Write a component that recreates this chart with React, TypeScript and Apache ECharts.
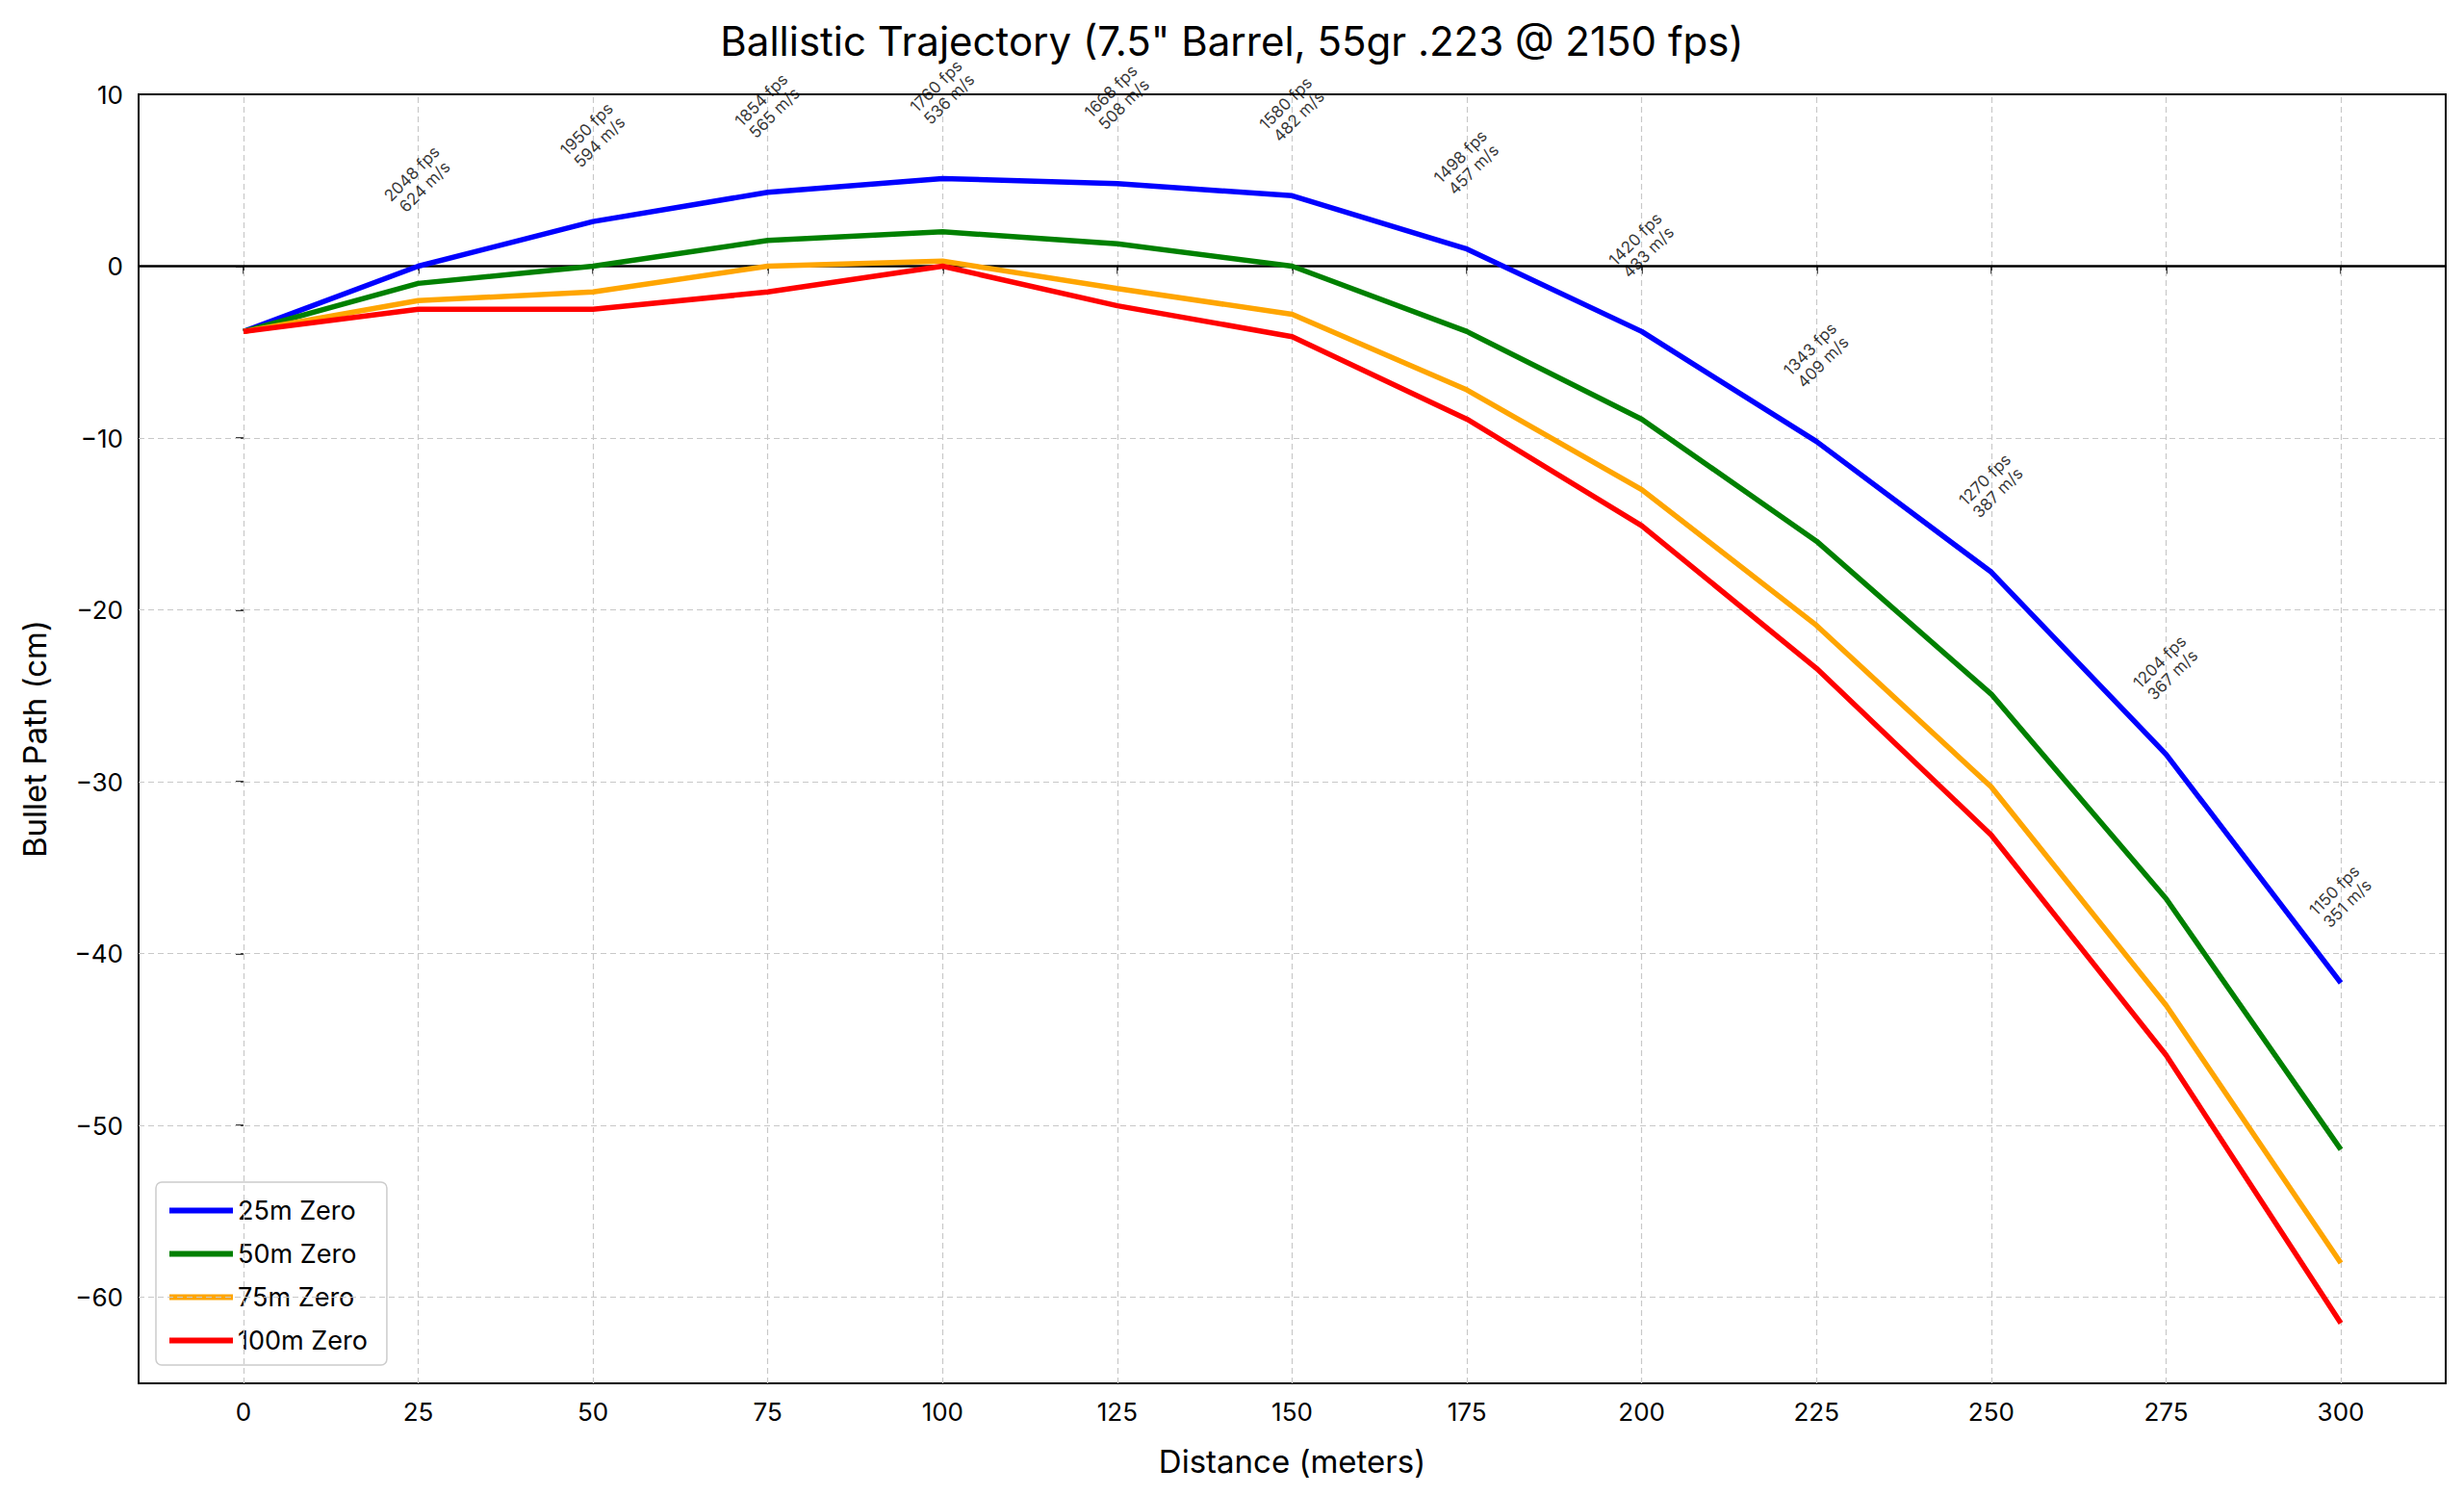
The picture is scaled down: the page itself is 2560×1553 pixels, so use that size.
import { useEffect, useRef } from "react";
import * as echarts from "echarts";

const distances = [0, 25, 50, 75, 100, 125, 150, 175, 200, 225, 250, 275, 300];
const zero25 = [-3.8, 0, 2.6, 4.3, 5.1, 4.8, 4.1, 1.0, -3.8, -10.2, -17.8, -28.4, -41.7];
const zero50 = [-3.8, -1.0, 0, 1.5, 2.0, 1.3, 0, -3.8, -8.9, -16.0, -24.9, -36.8, -51.4];
const zero75 = [-3.8, -2.0, -1.5, 0, 0.3, -1.3, -2.8, -7.2, -13.0, -20.9, -30.3, -43.0, -58.0];
const zero100 = [-3.8, -2.5, -2.5, -1.5, 0, -2.3, -4.1, -8.9, -15.1, -23.4, -33.1, -45.9, -61.5];
const fps = [2150, 2048, 1950, 1854, 1760, 1668, 1580, 1498, 1420, 1343, 1270, 1204, 1150];
const mps = [655, 624, 594, 565, 536, 508, 482, 457, 433, 409, 387, 367, 351];
const xTicks = [0, 25, 50, 75, 100, 125, 150, 175, 200, 225, 250, 275, 300];
const yTicks = [-60, -50, -40, -30, -20, -10, 0, 10];

const FONT = "Inter";

export default function App() {
  const ref = useRef<HTMLDivElement | null>(null);

  useEffect(() => {
    document.body.style.margin = "0";
    if (!ref.current) return;
    const chart = echarts.init(ref.current, undefined, { renderer: "svg" });

    const line = (name: string, color: string, data: number[]) => ({
      name,
      type: "line",
      data: distances.map((d, i) => [d, data[i]]),
      showSymbol: false,
      lineStyle: { color, width: 5.5 },
      itemStyle: { color },
      z: 5,
    });

    const gridStyle = { color: "#c8c8c8", type: [6, 4], width: 1.2 };

    chart.setOption({
      animation: false,
      backgroundColor: "#fff",
      textStyle: { fontFamily: FONT },
      title: {
        text: 'Ballistic Trajectory (7.5" Barrel, 55gr .223 @ 2150 fps)',
        left: "center",
        top: 16,
        textStyle: { fontFamily: FONT, fontSize: 42, fontWeight: "normal", color: "#000" },
      },
      grid: {
        left: 144, right: 19, top: 98, bottom: 116,
        show: true, borderColor: "#000", borderWidth: 2, backgroundColor: "transparent",
      },
      legend: {
        orient: "vertical",
        left: 162,
        bottom: 135,
        padding: [16, 20, 12, 14],
        itemGap: 18,
        backgroundColor: "#fff",
        borderColor: "#ccc",
        borderWidth: 1.5,
        borderRadius: 6,
        icon: "rect",
        itemWidth: 66,
        itemHeight: 6,
        textStyle: { fontFamily: FONT, fontSize: 27, color: "#000" },
        data: ["25m Zero", "50m Zero", "75m Zero", "100m Zero"],
      },
      xAxis: {
        type: "value",
        min: -15,
        max: 315,
        name: "Distance (meters)",
        nameLocation: "middle",
        nameGap: 64,
        nameTextStyle: { fontFamily: FONT, fontSize: 33, color: "#000" },
        axisLine: { show: false },
        axisTick: { show: true, customValues: xTicks, length: 8, lineStyle: { color: "#000", width: 1.5 } },
        axisLabel: { customValues: xTicks, fontFamily: FONT, fontSize: 26, color: "#000", margin: 16 },
        splitLine: { show: false },
      },
      yAxis: {
        type: "value",
        min: -65,
        max: 10,
        name: "Bullet Path (cm)",
        nameLocation: "middle",
        nameGap: 92,
        nameTextStyle: { fontFamily: FONT, fontSize: 33, color: "#000" },
        axisLine: { show: false },
        axisTick: { show: true, customValues: yTicks, length: 8, lineStyle: { color: "#000", width: 1.5 } },
        axisLabel: {
          customValues: yTicks, fontFamily: FONT, fontSize: 26, color: "#000", margin: 16,
          formatter: (v: number) => (v < 0 ? "\u2212" + Math.abs(v) : String(v)),
        },
        splitLine: { show: false },
      },
      series: [
        {
          type: "line",
          data: [],
          silent: true,
          markLine: {
            symbol: "none",
            silent: true,
            label: { show: false },
            data: [
              ...xTicks.map((x) => ({ xAxis: x, lineStyle: gridStyle })),
              ...yTicks.filter((y) => y !== 0 && y !== 10).map((y) => ({ yAxis: y, lineStyle: gridStyle })),
              { yAxis: 0, lineStyle: { color: "#000", type: "solid", width: 2.5 } },
            ],
          },
          z: 1,
        },
        line("25m Zero", "#0000ff", zero25),
        line("50m Zero", "#008000", zero50),
        line("75m Zero", "#ffa500", zero75),
        line("100m Zero", "#ff0000", zero100),
        {
          type: "scatter",
          silent: true,
          clip: false,
          symbolSize: 0,
          data: distances.slice(1).map((d, i) => ({
            value: [d, zero25[i + 1] + 5],
            label: { formatter: `${fps[i + 1]} fps\n${mps[i + 1]} m/s` },
          })),
          label: {
            show: true,
            position: "inside",
            rotate: 45,
            align: "center",
            verticalAlign: "middle",
            fontFamily: FONT,
            fontSize: 17,
            lineHeight: 19,
            color: "#000",
          },
          z: 10,
        },
      ],
    });

    return () => chart.dispose();
  }, []);

  return <div ref={ref} style={{ width: 2560, height: 1553 }} />;
}
